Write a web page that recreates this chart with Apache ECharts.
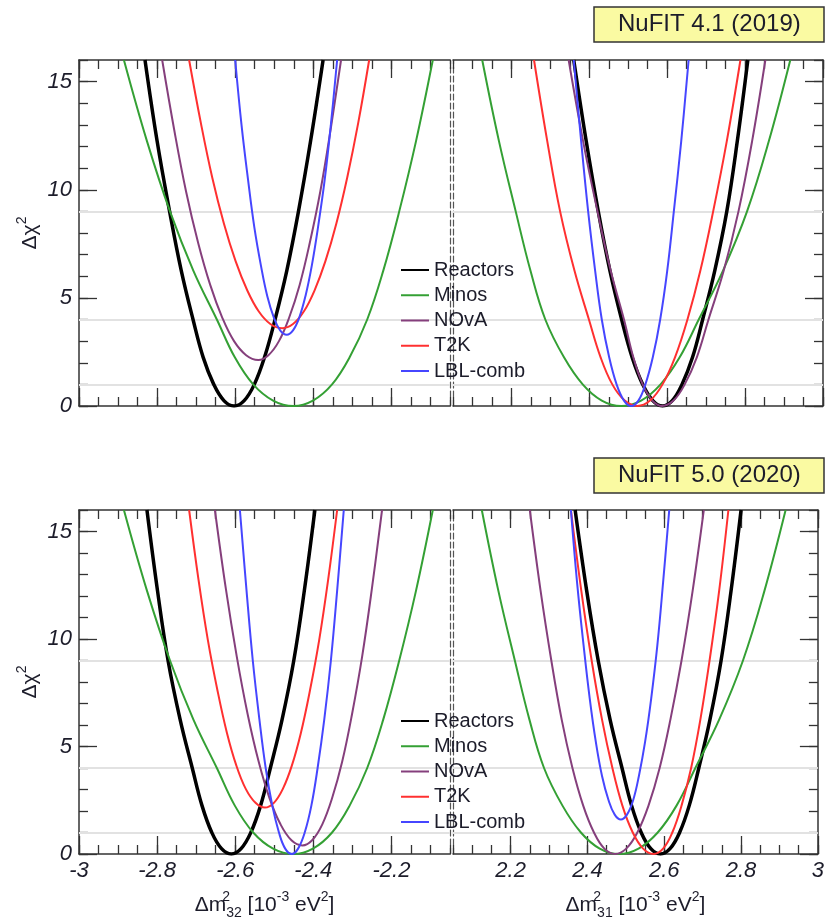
<!DOCTYPE html>
<html>
<head>
<meta charset="utf-8">
<script src="https://cdn.jsdelivr.net/npm/echarts@6/dist/echarts.min.js"></script>
<style>
  html, body { margin: 0; padding: 0; background: #fff; }
  #chart { width: 827px; height: 921px; }
</style>
</head>
<body>
<div id="chart"></div>
<script>
// tick labels and reference levels
const xTicksNeg = [-3, -2.8, -2.6, -2.4, -2.2]
const xTicksPos = [2.2, 2.4, 2.6, 2.8, 3]
const yTicks = [0, 5, 10, 15]
const levels = [1, 4, 9]
const names = ['Reactors', 'Minos', 'NOvA', 'T2K', 'LBL-comb']

// NuFIT 4.1 (2019), dm2_32 side  [x, dchi2]
const reac41n = [[-2.831, 16], [-2.800, 12.25], [-2.768, 9], [-2.738, 6.25], [-2.708, 4], [-2.682, 2.25], [-2.655, 1], [-2.629, 0.25], [-2.603, 0],
	[-2.577, 0.25], [-2.551, 1], [-2.525, 2.25], [-2.498, 4], [-2.468, 6.25], [-2.438, 9], [-2.407, 12.25], [-2.375, 16]]
const minos41n = [[-2.885, 16], [-2.826, 12.25], [-2.767, 9], [-2.707, 6.25], [-2.647, 4], [-2.601, 2.25], [-2.554, 1], [-2.503, 0.25], [-2.451, 0],
	[-2.401, 0.25], [-2.352, 1], [-2.307, 2.25], [-2.262, 4], [-2.221, 6.25], [-2.180, 9], [-2.137, 12.25], [-2.094, 16]]
const nova41n = [[-2.787, 16], [-2.756, 12.75], [-2.726, 9.93], [-2.695, 7.55], [-2.664, 5.6], [-2.633, 4.08], [-2.603, 3.0], [-2.572, 2.35], [-2.541, 2.13],
	[-2.515, 2.35], [-2.488, 3.0], [-2.462, 4.08], [-2.435, 5.6], [-2.409, 7.55], [-2.382, 9.93], [-2.356, 12.75], [-2.329, 16]]
const t2k41n = [[-2.718, 16], [-2.688, 13.09], [-2.659, 10.58], [-2.629, 8.44], [-2.599, 6.7], [-2.569, 5.34], [-2.540, 4.38], [-2.510, 3.79], [-2.480, 3.6],
	[-2.452, 3.79], [-2.424, 4.38], [-2.397, 5.34], [-2.369, 6.7], [-2.341, 8.44], [-2.313, 10.58], [-2.285, 13.09], [-2.257, 16]]
const lbl41n = [[-2.600, 16], [-2.584, 13.02], [-2.567, 10.44], [-2.551, 8.26], [-2.534, 6.48], [-2.518, 5.09], [-2.501, 4.09], [-2.485, 3.5], [-2.468, 3.3],
	[-2.452, 3.5], [-2.436, 4.09], [-2.420, 5.09], [-2.404, 6.48], [-2.388, 8.26], [-2.371, 10.44], [-2.355, 13.02], [-2.339, 16]]

// NuFIT 4.1 (2019), dm2_31 side
const reac41p = [[2.360, 16], [2.392, 12.25], [2.423, 9], [2.453, 6.25], [2.483, 4], [2.510, 2.25], [2.537, 1], [2.563, 0.25], [2.588, 0],
	[2.613, 0.25], [2.638, 1], [2.665, 2.25], [2.691, 4], [2.722, 6.25], [2.753, 9], [2.780, 12.25], [2.807, 16]]
const minos41p = [[2.125, 16], [2.168, 12.25], [2.211, 9], [2.249, 6.25], [2.287, 4], [2.335, 2.25], [2.383, 1], [2.432, 0.25], [2.482, 0],
	[2.533, 0.25], [2.583, 1], [2.632, 2.25], [2.681, 4], [2.743, 6.25], [2.805, 9], [2.861, 12.25], [2.916, 16]]
const nova41p = [[2.347, 16], [2.384, 12.25], [2.421, 9], [2.455, 6.25], [2.489, 4], [2.513, 2.25], [2.537, 1], [2.562, 0.25], [2.587, 0],
	[2.616, 0.25], [2.645, 1], [2.676, 2.25], [2.706, 4], [2.745, 6.25], [2.783, 9], [2.818, 12.25], [2.852, 16]]
const t2k41p = [[2.258, 16], [2.292, 12.25], [2.325, 9], [2.362, 6.25], [2.399, 4], [2.429, 2.25], [2.459, 1], [2.491, 0.25], [2.523, 0],
	[2.556, 0.25], [2.588, 1], [2.620, 2.25], [2.652, 4], [2.685, 6.25], [2.718, 9], [2.753, 12.25], [2.788, 16]]
const lbl41p = [[2.360, 16], [2.379, 12.25], [2.397, 9], [2.415, 6.25], [2.432, 4], [2.451, 2.25], [2.470, 1], [2.489, 0.25], [2.507, 0],
	[2.526, 0.25], [2.544, 1], [2.563, 2.25], [2.582, 4], [2.600, 6.25], [2.617, 9], [2.636, 12.25], [2.655, 16]]

// NuFIT 5.0 (2020), dm2_32 side
const reac50n = [[-2.826, 16], [-2.799, 12.25], [-2.772, 9], [-2.741, 6.25], [-2.710, 4], [-2.685, 2.25], [-2.660, 1], [-2.635, 0.25], [-2.610, 0],
	[-2.585, 0.25], [-2.560, 1], [-2.535, 2.25], [-2.510, 4], [-2.480, 6.25], [-2.450, 9], [-2.423, 12.25], [-2.396, 16]]
const minos50n = [[-2.885, 16], [-2.826, 12.25], [-2.767, 9], [-2.707, 6.25], [-2.647, 4], [-2.601, 2.25], [-2.554, 1], [-2.503, 0.25], [-2.451, 0],
	[-2.401, 0.25], [-2.352, 1], [-2.307, 2.25], [-2.262, 4], [-2.221, 6.25], [-2.180, 9], [-2.137, 12.25], [-2.094, 16]]
const nova50n = [[-2.652, 16], [-2.624, 12.34], [-2.596, 9.18], [-2.568, 6.49], [-2.540, 4.3], [-2.512, 2.59], [-2.484, 1.38], [-2.456, 0.64], [-2.428, 0.4],
	[-2.403, 0.64], [-2.377, 1.38], [-2.352, 2.59], [-2.326, 4.3], [-2.301, 6.49], [-2.275, 9.18], [-2.250, 12.34], [-2.224, 16]]
const t2k50n = [[-2.718, 16], [-2.694, 12.76], [-2.670, 9.95], [-2.645, 7.57], [-2.621, 5.62], [-2.597, 4.11], [-2.573, 3.03], [-2.548, 2.38], [-2.524, 2.16],
	[-2.501, 2.38], [-2.478, 3.03], [-2.455, 4.11], [-2.432, 5.62], [-2.409, 7.57], [-2.385, 9.95], [-2.362, 12.76], [-2.339, 16]]
const lbl50n = [[-2.588, 16], [-2.571, 12.25], [-2.555, 9], [-2.538, 6.25], [-2.522, 4], [-2.505, 2.25], [-2.488, 1], [-2.472, 0.25], [-2.455, 0],
	[-2.439, 0.25], [-2.422, 1], [-2.405, 2.25], [-2.389, 4], [-2.372, 6.25], [-2.355, 9], [-2.339, 12.25], [-2.322, 16]]

// NuFIT 5.0 (2020), dm2_31 side
const reac50p = [[2.368, 16], [2.398, 12.25], [2.428, 9], [2.459, 6.25], [2.490, 4], [2.515, 2.25], [2.540, 1], [2.565, 0.25], [2.590, 0],
	[2.615, 0.25], [2.640, 1], [2.665, 2.25], [2.690, 4], [2.719, 6.25], [2.748, 9], [2.774, 12.25], [2.800, 16]]
const minos50p = [[2.125, 16], [2.168, 12.25], [2.211, 9], [2.249, 6.25], [2.287, 4], [2.335, 2.25], [2.383, 1], [2.432, 0.25], [2.482, 0],
	[2.533, 0.25], [2.583, 1], [2.632, 2.25], [2.681, 4], [2.743, 6.25], [2.805, 9], [2.861, 12.25], [2.916, 16]]
const nova50p = [[2.250, 16], [2.278, 12.25], [2.306, 9], [2.333, 6.25], [2.361, 4], [2.389, 2.25], [2.417, 1], [2.444, 0.25], [2.472, 0],
	[2.501, 0.25], [2.530, 1], [2.559, 2.25], [2.588, 4], [2.616, 6.25], [2.645, 9], [2.674, 12.25], [2.703, 16]]
const t2k50p = [[2.357, 16], [2.384, 12.25], [2.411, 9], [2.438, 6.25], [2.465, 4], [2.491, 2.25], [2.518, 1], [2.545, 0.25], [2.572, 0],
	[2.597, 0.25], [2.621, 1], [2.645, 2.25], [2.670, 4], [2.694, 6.25], [2.718, 9], [2.743, 12.25], [2.767, 16]]
const lbl50p = [[2.357, 16], [2.373, 12.63], [2.390, 9.7], [2.406, 7.23], [2.422, 5.2], [2.438, 3.63], [2.455, 2.5], [2.471, 1.83], [2.487, 1.6],
	[2.503, 1.83], [2.519, 2.5], [2.534, 3.63], [2.550, 5.2], [2.566, 7.23], [2.582, 9.7], [2.597, 12.63], [2.613, 16]]

const FONT = 'Liberation Sans'
const INK = '#1c1c2a'
const AXIS = '#333'
const colors = ['#000000', '#34a034', '#853f7c', '#ff3030', '#4646ff']
const widths = [3.5, 2, 2, 2, 2]

const labelFont = { fontFamily: FONT, fontSize: 22, fontStyle: 'italic', color: INK }
const richName = {
	t: { fontFamily: FONT, fontSize: 21, color: INK, lineHeight: 30 },
	s: { fontFamily: FONT, fontSize: 14, color: INK, verticalAlign: 'top', lineHeight: 30, width: 0 },
	b: { fontFamily: FONT, fontSize: 14, color: INK, verticalAlign: 'bottom', lineHeight: 28 },
	e: { fontFamily: FONT, fontSize: 14, color: INK, verticalAlign: 'top', lineHeight: 30 },
}

const grids = []
const xAxes = []
const yAxes = []
const series = []

function addPanel(rect, neg, bottomRow, curves) {
	const g = grids.length
	grids.push(rect)
	const min = neg ? -3 : 2.05
	const max = neg ? -2.05 : 3
	const majors = neg ? xTicksNeg : xTicksPos
	const line = { onZero: false, lineStyle: { color: AXIS, width: 1.5 } }
	const noLine = { show: false, onZero: false }
	const minorTick = { inside: true, length: 9, lineStyle: { color: AXIS, width: 1.3 } }
	const majorTick = { inside: true, length: 18, lineStyle: { color: AXIS, width: 1.3 } }
	const xb = { type: 'value', gridIndex: g, min, max, splitLine: { show: false } }
	const mainX = xAxes.length
	const xName = neg
		? '{t|Δm}{s|2}{b|32}{t| [10}{e|-3}{t| eV}{e|2}{t|]}'
		: '{t|Δm}{s|2}{b|31}{t| [10}{e|-3}{t| eV}{e|2}{t|]}'
	xAxes.push(Object.assign({}, xb, {
		position: 'bottom', interval: 0.05, axisLine: line, axisTick: minorTick, axisLabel: { show: false },
	}, bottomRow ? { name: xName, nameLocation: 'middle', nameGap: 36, nameTextStyle: { rich: richName } } : {}))
	xAxes.push(Object.assign({}, xb, {
		position: 'bottom', axisLine: noLine,
		axisTick: Object.assign({}, majorTick, { customValues: majors }),
		axisLabel: Object.assign({ show: bottomRow, customValues: majors, margin: 6 }, labelFont),
	}))
	xAxes.push(Object.assign({}, xb, {
		position: 'top', interval: 0.05, axisLine: line, axisTick: minorTick, axisLabel: { show: false },
	}))
	xAxes.push(Object.assign({}, xb, {
		position: 'top', axisLine: noLine,
		axisTick: Object.assign({}, majorTick, { customValues: majors }), axisLabel: { show: false },
	}))

	const yb = { type: 'value', gridIndex: g, min: 0, max: 16, splitLine: { show: false } }
	const dashed = { onZero: false, lineStyle: { color: '#555', width: 1.2, type: [6, 3] } }
	const tickSide = neg ? 'left' : 'right'
	const dashSide = neg ? 'right' : 'left'
	const mainY = yAxes.length
	yAxes.push(Object.assign({}, yb, {
		position: tickSide, interval: 1, axisLine: line, axisTick: minorTick, axisLabel: { show: false },
	}, neg ? { name: '{t|Δχ}{e|2}', nameLocation: 'middle', nameGap: 34, nameTextStyle: { rich: richName } } : {}))
	yAxes.push(Object.assign({}, yb, {
		position: tickSide, axisLine: noLine,
		axisTick: Object.assign({}, majorTick, { customValues: yTicks }),
		axisLabel: Object.assign({ show: neg, customValues: yTicks, margin: 7 }, labelFont),
	}))
	yAxes.push(Object.assign({}, yb, {
		position: dashSide, axisLine: dashed, axisTick: { show: false }, axisLabel: { show: false },
	}))

	curves.forEach((data, i) => {
		const s = {
			name: names[i], type: 'line', xAxisIndex: mainX, yAxisIndex: mainY,
			data: data, smooth: 0.4, symbol: 'none', silent: true, z: 3 + i,
			lineStyle: { color: colors[i], width: widths[i] },
			itemStyle: { color: colors[i] },
		}
		if (i === 0) {
			s.markLine = {
				silent: true, symbol: 'none', z: 1, label: { show: false },
				lineStyle: { color: '#e2e2e2', width: 2, type: 'solid' },
				data: levels.map(v => ({ yAxis: v })),
			}
		}
		series.push(s)
	})
}

addPanel({ left: 79, top: 60, width: 371, height: 346 }, true, false, [reac41n, minos41n, nova41n, t2k41n, lbl41n])
addPanel({ left: 453, top: 60, width: 370, height: 346 }, false, false, [reac41p, minos41p, nova41p, t2k41p, lbl41p])
addPanel({ left: 79, top: 510, width: 371, height: 346 }, true, true, [reac50n, minos50n, nova50n, t2k50n, lbl50n])
addPanel({ left: 453, top: 510, width: 370, height: 346 }, false, true, [reac50p, minos50p, nova50p, t2k50p, lbl50p])

const legendBase = {
	orient: 'vertical', left: 400, padding: 0, itemWidth: 28, itemHeight: 14, itemGap: 5.25,
	selectedMode: false, data: names,
	itemStyle: { opacity: 0 },
	textStyle: { fontFamily: FONT, fontSize: 20, lineHeight: 20, color: INK },
}
const titleBase = {
	left: 594, padding: [5, 24, 5, 24], backgroundColor: '#fafaa2', borderColor: '#333', borderWidth: 1.5,
	textStyle: { fontFamily: FONT, fontSize: 24, fontWeight: 'normal', color: INK, lineHeight: 25 },
}

const chart = echarts.init(document.getElementById('chart'))
chart.setOption({
	animation: false,
	backgroundColor: '#fff',
	title: [
		Object.assign({ text: 'NuFIT 4.1 (2019)', top: 7 }, titleBase),
		Object.assign({ text: 'NuFIT 5.0 (2020)', top: 458 }, titleBase),
	],
	legend: [
		Object.assign({ top: 260 }, legendBase),
		Object.assign({ top: 711 }, legendBase),
	],
	grid: grids,
	xAxis: xAxes,
	yAxis: yAxes,
	series: series,
})
</script>
</body>
</html>
